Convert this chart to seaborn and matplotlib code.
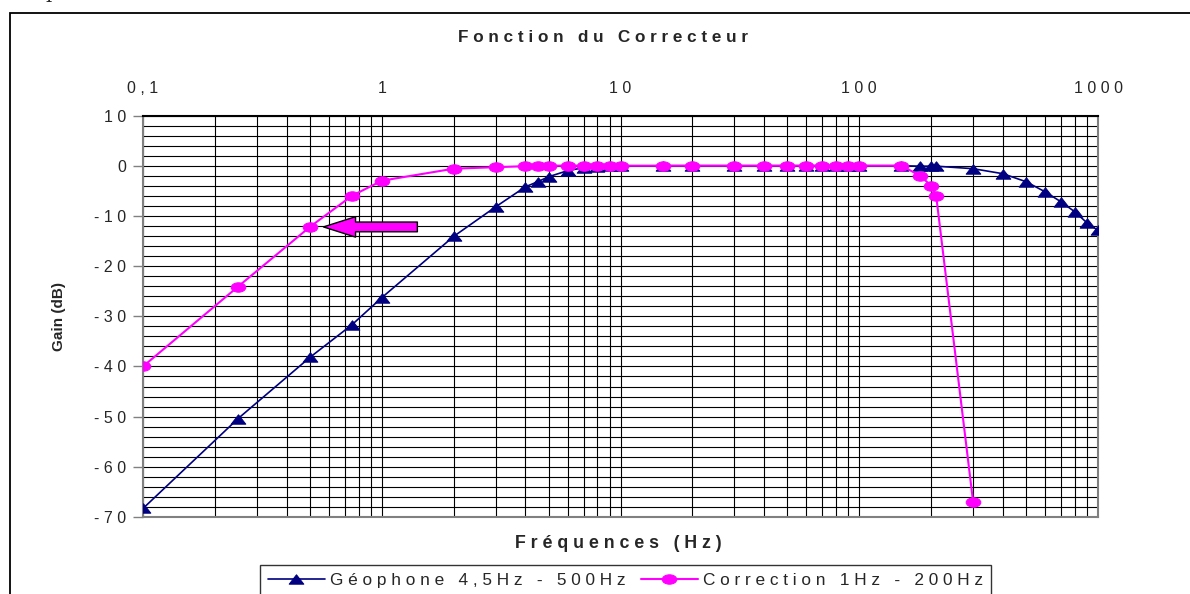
import matplotlib
matplotlib.use("Agg")
import pandas as pd
import matplotlib.pyplot as plt
import matplotlib.ticker as mticker
from matplotlib.path import Path
from matplotlib.transforms import Affine2D
from matplotlib.patches import Rectangle
import seaborn as sns

sns.set_style("white")
plt.rcParams["font.family"] = ["Liberation Sans", "DejaVu Sans"]

# ── Données ──────────────────────────────────────────────────────────────────
freq_geo = [0.1, 0.25, 0.5, 0.75, 1, 2, 3, 4, 4.5, 5, 6, 7, 8, 9, 10, 15, 20,
            30, 40, 50, 60, 70, 80, 90, 100, 150, 180, 200, 210, 300, 400,
            500, 600, 700, 800, 900, 1000]
gain_geo = [-68.3, -50.4, -38.2, -31.7, -26.3, -14.1, -8.2, -4.2, -3.2, -2.2,
            -1.0, -0.4, -0.2, -0.1, -0.1, 0, 0, 0, 0, 0, 0, 0, 0, 0, 0, 0,
            -0.1, -0.1, -0.1, -0.6, -1.6, -3.2, -5.2, -7.2, -9.2, -11.4, -12.9]

freq_cor = [0.1, 0.25, 0.5, 0.75, 1, 2, 3, 4, 4.5, 5, 6, 7, 8, 9, 10, 15, 20,
            30, 40, 50, 60, 70, 80, 90, 100, 150, 180, 200, 210, 300]
gain_cor = [-40, -24.1, -12.2, -6.0, -3.0, -0.6, -0.3, -0.1, -0.1, 0, 0, 0, 0,
            0, 0, 0, 0, 0, 0, 0, 0, 0, 0, 0, 0, 0, -2.0, -4.0, -6.0, -67.1]

label_geo = "G é o p h o n e   4 , 5 H z   -   5 0 0 H z"
label_cor = "C o r r e c t i o n   1 H z   -   2 0 0 H z"

x_ticks = [0.1, 1, 10, 100, 1000]
x_labels = ["0 , 1", "1", "1 0", "1 0 0", "1 0 0 0"]
y_ticks = [10, 0, -10, -20, -30, -40, -50, -60, -70]
y_labels = ["1 0", "0", "- 1 0", "- 2 0", "- 3 0", "- 4 0", "- 5 0", "- 6 0", "- 7 0"]

df_geo = pd.DataFrame({"freq": freq_geo, "gain": gain_geo})
df_cor = pd.DataFrame({"freq": freq_cor, "gain": gain_cor})

NAVY = "#000080"
MAGENTA = "#FF00FF"

# marqueurs "à la Excel" : triangles et ronds écrasés
tri = Path([(-0.78, -0.5), (0.78, -0.5), (0, 0.5), (-0.78, -0.5)],
           [Path.MOVETO, Path.LINETO, Path.LINETO, Path.CLOSEPOLY])
ellipse = Path.unit_circle().transformed(Affine2D().scale(1.55, 1.0))

# ── Figure ───────────────────────────────────────────────────────────────────
fig = plt.figure(figsize=(11.9, 5.94), dpi=100)
ax = fig.add_axes([143 / 1190, 1 - 517 / 594, 955 / 1190, 401.5 / 594])
ax.set_xscale("log")

sns.lineplot(data=df_geo, x="freq", y="gain", ax=ax, color=NAVY, lw=1.2,
             marker=tri, markersize=10.5, markeredgecolor=NAVY, markerfacecolor=NAVY,
             sort=False, estimator=None, label=label_geo, zorder=3)
sns.lineplot(data=df_cor, x="freq", y="gain", ax=ax, color=MAGENTA, lw=1.5,
             marker=ellipse, markersize=10.5, markeredgecolor=MAGENTA,
             markerfacecolor=MAGENTA, sort=False, estimator=None,
             label=label_cor, zorder=4)

ax.set_xlim(0.1, 1000)
ax.set_ylim(-70, 10)

# grille
ax.xaxis.set_minor_locator(mticker.LogLocator(base=10, subs=range(2, 10)))
ax.xaxis.set_minor_formatter(mticker.NullFormatter())
ax.yaxis.set_minor_locator(mticker.MultipleLocator(2))
ax.grid(which="both", color="black", lw=0.8)
ax.set_axisbelow(True)

# axes
ax.xaxis.tick_top()
ax.set_xticks(x_ticks)
ax.set_xticklabels(x_labels, fontsize=11.5)
ax.set_yticks(y_ticks)
ax.set_yticklabels(y_labels, fontsize=11.5)
ax.tick_params(axis="x", which="both", length=0, pad=14)
ax.tick_params(axis="y", which="major", length=7, width=1, color="#808080",
               direction="out", pad=5, left=True)
ax.tick_params(axis="y", which="minor", length=0)
for s in ax.spines.values():
    s.set_color("#808080")
    s.set_linewidth(1.5)
ax.spines["top"].set_color("black")

ax.set_xlabel("")
ax.set_ylabel("Gain (dB)", fontsize=11, fontweight="bold", labelpad=20)

fig.text(603 / 1190, 1 - 38 / 594, "F o n c t i o n   d u   C o r r e c t e u r",
         ha="center", va="center", fontsize=12.3, fontweight="bold")
fig.text(618 / 1190, 1 - 544 / 594, "F r é q u e n c e s   ( H z )",
         ha="center", va="center", fontsize=12.8, fontweight="bold")

# flèche sur le point -12 dB
ax.annotate("", xy=(0.57, -12.2), xytext=(1.41, -12.2),
            arrowprops=dict(arrowstyle="simple,head_length=1.65,head_width=1.05,tail_width=0.5",
                            fc=MAGENTA, ec="black", lw=1, shrinkA=0, shrinkB=0,
                            mutation_scale=14),
            zorder=5)

# légende
leg = ax.legend(loc="upper left", bbox_to_anchor=(260 / 1190, 1 - 565 / 594),
                bbox_transform=fig.transFigure, ncol=2, frameon=True,
                fancybox=False, edgecolor="black", borderaxespad=0,
                borderpad=0.45, handlelength=3.3, handletextpad=0.3,
                columnspacing=0.9, fontsize=12.4)
leg.get_frame().set_linewidth(1)

# cadre extérieur du graphique
fig.add_artist(Rectangle((10 / 1190, -0.05), 1.1, 1 - 13 / 594 + 0.05,
                         transform=fig.transFigure, fill=False, ec="black",
                         lw=1.3, clip_on=False))
fig.text(0.038, 1.004, "p", family="serif", fontsize=14, va="baseline")

fig.savefig("out.png", dpi=100)
